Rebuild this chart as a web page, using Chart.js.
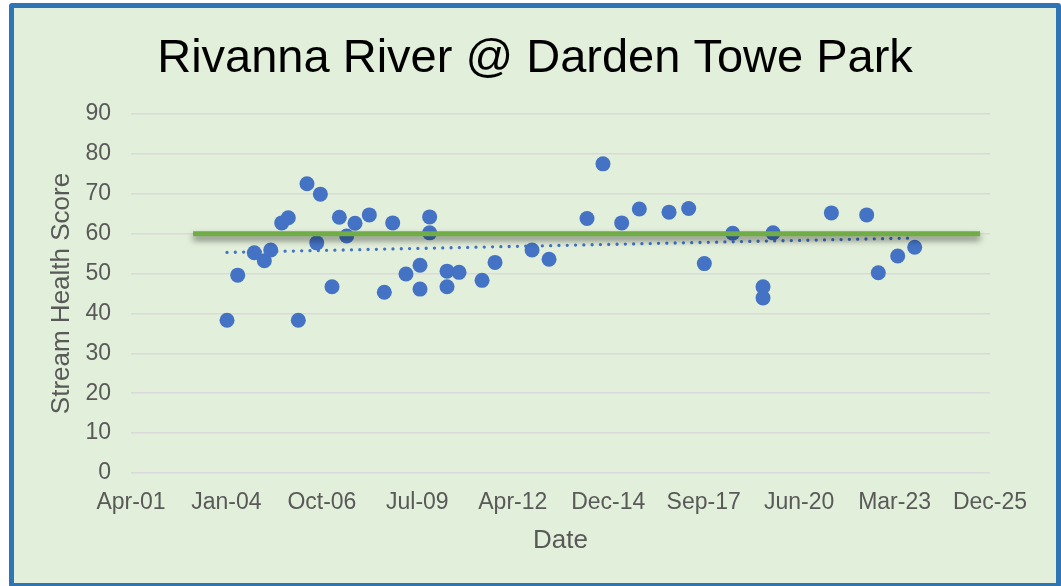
<!DOCTYPE html>
<html>
<head>
<meta charset="utf-8">
<script src="https://cdn.jsdelivr.net/npm/chart.js@4.4.1/dist/chart.umd.min.js"></script>
<style>
  body { margin: 0; background: #fff; overflow: hidden; }
  .frame {
    position: absolute; left: 9px; top: 3px; width: 1052px; height: 585px;
    box-sizing: border-box; border: 5px solid #2E75B6; border-radius: 3px;
    background: #E2EFDA;
  }
  #myChart { position: absolute; left: 0; top: 0; }
</style>
</head>
<body>
<div class="frame"></div>
<canvas id="myChart" width="1061" height="586"></canvas>
<script>
// sample dates as Excel day serials, with stream health scores
const sampleDates = [
  38006, 38118, 38292, 38397, 38464, 38579, 38648, 38753, 38844, 38946,
  38984, 39106, 39183, 39260, 39347, 39497, 39654, 39742, 39881, 40028,
  40028, 40129, 40129, 40311, 40311, 40437, 40678, 40814, 41202, 41380,
  41778, 41945, 42141, 42326, 42637, 42843, 43007, 43304, 43622, 43622,
  43727, 44338, 44708, 44830, 45033, 45211
];
const scores = [
  38.3, 49.6, 55.2, 53.2, 55.9, 62.7, 64.0, 38.3, 72.5, 57.7,
  69.9, 46.7, 64.1, 59.4, 62.6, 64.7, 45.3, 62.7, 49.9, 52.1,
  46.1, 64.2, 60.2, 50.6, 46.7, 50.3, 48.3, 52.8, 55.9, 53.6,
  63.8, 77.5, 62.7, 66.2, 65.4, 66.3, 52.5, 60.1, 46.7, 43.9,
  60.2, 65.2, 64.7, 50.2, 54.4, 56.6
];
const xTickLabels = ["Apr-01", "Jan-04", "Oct-06", "Jul-09", "Apr-12",
  "Dec-14", "Sep-17", "Jun-20", "Mar-23", "Dec-25"];
const yTicks = [0, 10, 20, 30, 40, 50, 60, 70, 80, 90];

// target line
const targetValue = 60;
const targetStart = 37650;
const targetEnd = 45896;

// linear trend from the data
const n = scores.length;
const mx = sampleDates.reduce((a, b) => a + b, 0) / n;
const my = scores.reduce((a, b) => a + b, 0) / n;
let sxy = 0, sxx = 0;
for (let i = 0; i < n; i++) {
  sxy += (sampleDates[i] - mx) * (scores[i] - my);
  sxx += (sampleDates[i] - mx) * (sampleDates[i] - mx);
}
const slope = sxy / sxx;
const trendX = [Math.min(...sampleDates), Math.max(...sampleDates)];
const trendData = trendX.map((x) => ({ x: x, y: my + slope * (x - mx) }));

const fontFamily = "'Liberation Sans', Arial, sans-serif";
const grey = "#595959";

// shadow under the green target line
const shadowPlugin = {
  id: "targetShadow",
  beforeDatasetDraw(chart, args) {
    if (args.index === 2) {
      chart.ctx.save();
      chart.ctx.shadowColor = "rgba(0,0,0,0.5)";
      chart.ctx.shadowBlur = 6;
      chart.ctx.shadowOffsetY = 4;
    }
  },
  afterDatasetDraw(chart, args) {
    if (args.index === 2) chart.ctx.restore();
  },
};

const config = {
  type: "scatter",
  data: {
    datasets: [
      {
        data: sampleDates.map((d, i) => ({ x: d, y: scores[i] })),
        backgroundColor: "#4472C4",
        borderWidth: 0,
        pointRadius: 7.5,
        order: 3,
      },
      {
        type: "line",
        data: trendData,
        borderColor: "#4472C4",
        borderWidth: 3.3,
        borderDash: [0, 8.3],
        borderCapStyle: "round",
        pointRadius: 0,
        fill: false,
        order: 2,
      },
      {
        type: "line",
        data: [{ x: targetStart, y: targetValue }, { x: targetEnd, y: targetValue }],
        borderColor: "#70AD47",
        borderWidth: 5,
        pointRadius: 0,
        fill: false,
        order: 1,
      },
    ],
  },
  options: {
    responsive: false,
    animation: false,
    layout: { padding: { left: 80, right: 71, top: 0, bottom: 0 } },
    plugins: {
      legend: { display: false },
      tooltip: { enabled: false },
      title: {
        display: true,
        text: "Rivanna River @ Darden Towe Park",
        color: "#000",
        font: { family: fontFamily, size: 47, weight: "normal" },
        padding: { top: 31, bottom: 26.6 },
      },
    },
    scales: {
      x: {
        type: "linear",
        min: 37000,
        max: 46000,
        afterFit: (scale) => { scale.height = 113; },
        ticks: {
          stepSize: 1000,
          autoSkip: false,
          maxRotation: 0,
          padding: 16,
          color: grey,
          font: { family: fontFamily, size: 23 },
          callback: (v, i) => xTickLabels[i],
        },
        grid: { display: false, drawTicks: false },
        border: { display: false },
        title: {
          display: true,
          text: "Date",
          color: grey,
          font: { family: fontFamily, size: 26 },
          padding: { top: 0, bottom: 30 },
        },
      },
      y: {
        min: yTicks[0],
        max: yTicks[yTicks.length - 1],
        afterFit: (scale) => { scale.width = 51; },
        ticks: {
          stepSize: 10,
          padding: 20,
          color: grey,
          font: { family: fontFamily, size: 23 },
        },
        grid: { color: "#D9D9D9", lineWidth: 1.5, drawTicks: false },
        border: { display: false },
        title: {
          display: true,
          text: "Stream Health Score",
          color: grey,
          font: { family: fontFamily, size: 26 },
          padding: { top: -34, bottom: 0 },
        },
      },
    },
  },
  plugins: [shadowPlugin],
};

const ctx = document.getElementById("myChart").getContext("2d");
new Chart(ctx, config);
</script>
</body>
</html>
